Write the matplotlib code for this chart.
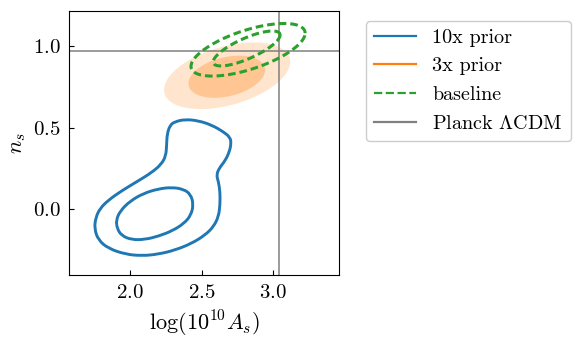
import numpy as np
import matplotlib
matplotlib.use("Agg")
import matplotlib.pyplot as plt
from matplotlib.path import Path
from matplotlib.patches import PathPatch
from matplotlib.lines import Line2D

plt.rcParams['font.family'] = 'serif'
plt.rcParams['font.serif'] = ['cmr10']
plt.rcParams['mathtext.fontset'] = 'cm'
plt.rcParams['axes.formatter.use_mathtext'] = True

# ---- data ----
# 10x prior: irregular contours (logAs, ns) vertices
blue_outer_x = [2.279, 2.314, 2.384, 2.478, 2.572, 2.654, 2.701, 2.708, 2.696, 2.666,
                2.623, 2.605, 2.619, 2.630, 2.630, 2.619, 2.584, 2.525, 2.431, 2.314,
                2.197, 2.080, 1.963, 1.846, 1.775, 1.747, 1.757, 1.787, 1.846, 1.939,
                2.056, 2.150, 2.216, 2.249, 2.255, 2.258]
blue_outer_y = [0.516, 0.537, 0.551, 0.543, 0.516, 0.475, 0.441, 0.404, 0.353, 0.298,
                0.251, 0.210, 0.169, 0.108, 0.026, -0.045, -0.106, -0.157, -0.208, -0.249,
                -0.274, -0.284, -0.274, -0.239, -0.188, -0.117, -0.049, 0.006, 0.057, 0.114,
                0.175, 0.226, 0.275, 0.326, 0.394, 0.461]
blue_inner_x = [1.900, 1.928, 1.998, 2.092, 2.197, 2.291, 2.373, 2.424, 2.443, 2.426,
                2.377, 2.295, 2.197, 2.103, 2.010, 1.939, 1.907]
blue_inner_y = [-0.066, -0.010, 0.051, 0.098, 0.126, 0.135, 0.124, 0.092, 0.030, -0.035,
                -0.086, -0.131, -0.164, -0.184, -0.186, -0.161, -0.117]

# elliptical contours: center, half extents (x, y), correlation for [inner, outer]
orange_center = [(2.677, 0.812), (2.680, 0.818)]
orange_half_x = [0.269, 0.443]
orange_half_y = [0.129, 0.204]
orange_rho = [0.32, 0.42]

green_center = [(2.817, 0.985), (2.827, 0.977)]
green_half_x = [0.235, 0.401]
green_half_y = [0.107, 0.161]
green_rho = [0.77, 0.63]

planck_logAs = 3.044
planck_ns = 0.969

legend_labels = ['10x prior', '3x prior', 'baseline', r'Planck $\Lambda$CDM']
xticks = [2.0, 2.5, 3.0]
yticks = [0.0, 0.5, 1.0]

C_BLUE, C_ORANGE, C_GREEN, C_GREY = '#1f77b4', '#ff7f0e', '#2ca02c', '#808080'


def smooth_closed_path(xs, ys):
    pts = np.column_stack([xs, ys])
    n = len(pts)
    mids = 0.5 * (pts + np.roll(pts, -1, axis=0))
    verts = [mids[-1]]
    codes = [Path.MOVETO]
    for i in range(n):
        verts += [pts[i], mids[i]]
        codes += [Path.CURVE3, Path.CURVE3]
    return Path(verts, codes)


def ellipse_xy(center, a, b, rho, n=240):
    t = np.linspace(0, 2 * np.pi, n)
    x = center[0] + a * np.cos(t)
    y = center[1] + b * (rho * np.cos(t) + np.sqrt(1 - rho ** 2) * np.sin(t))
    return x, y


fig = plt.figure(figsize=(5.8, 3.46), dpi=100)
ax = fig.add_axes([0.1195, 0.204, 0.4655, 0.765])

# 3x prior filled
xo, yo = ellipse_xy(orange_center[1], orange_half_x[1], orange_half_y[1], orange_rho[1])
ax.fill(xo, yo, color=C_ORANGE, alpha=0.2, lw=0, zorder=1)
xi, yi = ellipse_xy(orange_center[0], orange_half_x[0], orange_half_y[0], orange_rho[0])
ax.fill(xi, yi, color=C_ORANGE, alpha=0.3, lw=0, zorder=1.1)

# Planck lines
ax.axvline(planck_logAs, color=C_GREY, lw=1.1, zorder=2)
ax.axhline(planck_ns, color=C_GREY, lw=1.1, zorder=2)

# baseline dashed
for k in range(2):
    x, y = ellipse_xy(green_center[k], green_half_x[k], green_half_y[k], green_rho[k])
    ax.plot(x, y, color=C_GREEN, lw=2.2, dashes=(2.5, 1.3), zorder=3)

# 10x prior contours
for xs, ys in [(blue_outer_x, blue_outer_y), (blue_inner_x, blue_inner_y)]:
    ax.add_patch(PathPatch(smooth_closed_path(xs, ys), facecolor='none',
                           edgecolor=C_BLUE, lw=2.1, zorder=4))

ax.set_xlim(1.571, 3.468)
ax.set_ylim(-0.404, 1.216)
ax.set_xticks(xticks)
ax.set_yticks(yticks)
ax.tick_params(direction='in', labelsize=15, pad=6)
ax.set_xlabel(r'$\log(10^{10}A_s)$', fontsize=16, labelpad=5)
ax.set_ylabel(r'$n_s$', fontsize=16, labelpad=4)

handles = [Line2D([], [], color=C_BLUE, lw=1.6),
           Line2D([], [], color=C_ORANGE, lw=1.6),
           Line2D([], [], color=C_GREEN, lw=1.6, ls='--'),
           Line2D([], [], color=C_GREY, lw=1.6)]
fig.legend(handles, legend_labels, loc='upper left', bbox_to_anchor=(0.631, 0.94),
           bbox_transform=fig.transFigure, borderaxespad=0, fontsize=14.5,
           handlelength=2.1, handletextpad=0.8, labelspacing=0.52, framealpha=1,
           edgecolor='0.8')

fig.savefig('out.png', dpi=100)
